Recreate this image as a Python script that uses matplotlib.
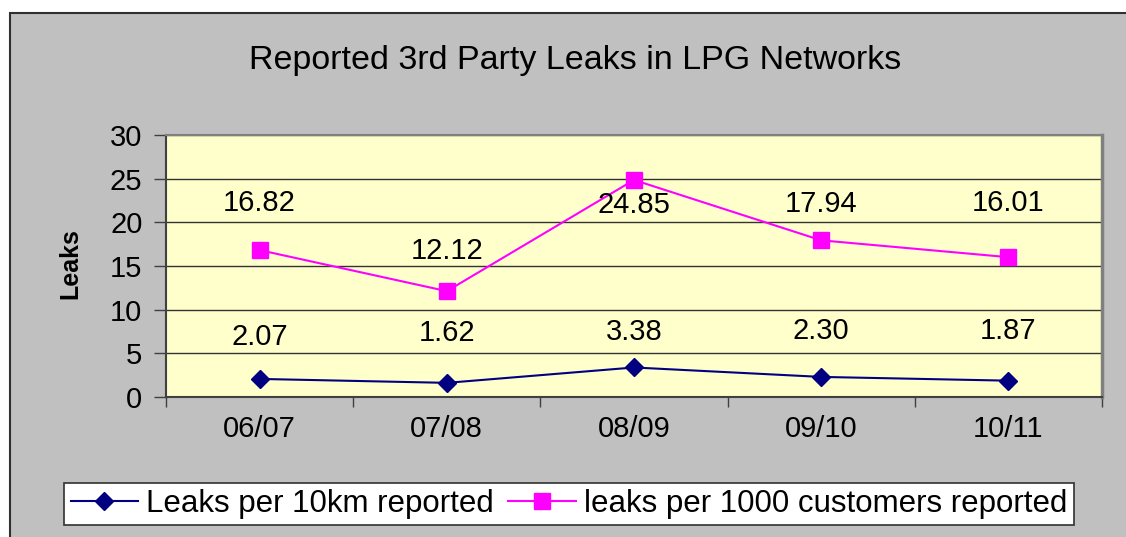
import matplotlib
matplotlib.use("Agg")
import matplotlib.pyplot as plt
from matplotlib.patches import Rectangle

plt.rcParams['font.family'] = ['Liberation Sans', 'DejaVu Sans']

title = "Reported 3rd Party Leaks in LPG Networks"
categories = ["06/07", "07/08", "08/09", "09/10", "10/11"]
leaks_per_10km = [2.07, 1.62, 3.38, 2.30, 1.87]
leaks_per_1000 = [16.82, 12.12, 24.85, 17.94, 16.01]
series_names = ["Leaks per 10km reported", "leaks per 1000 customers reported"]
y_label = "Leaks"
y_ticks = [0, 5, 10, 15, 20, 25, 30]

# label placement (data-y positions of the value labels)
label_y_10km = [6.9, 7.3, 7.4, 7.6, 7.6]
label_y_1000 = [22.2, 16.7, 22.0, 22.1, 22.2]

W, H = 1126, 537
fig = plt.figure(figsize=(W / 100, H / 100), dpi=100)
fig.patch.set_facecolor("white")

# grey chart area (border visible on left and top only)
bg = Rectangle((10 / W, -0.02), 1.0, 1 - 13 / H + 0.02, transform=fig.transFigure,
               facecolor="#C0C0C0", edgecolor="#303030", linewidth=1.5, zorder=-10)
fig.add_artist(bg)

ax = fig.add_axes([166 / W, (H - 397) / H, (1102 - 166) / W, (397 - 135) / H])
ax.set_zorder(1)
ax.set_facecolor("#FFFFCC")
x = list(range(len(categories)))

ax.plot(x, leaks_per_10km, color="#000080", marker="D", markersize=9, linewidth=1.5,
        label=series_names[0], zorder=3)
ax.plot(x, leaks_per_1000, color="#FF00FF", marker="s", markersize=11, linewidth=1.5,
        label=series_names[1], zorder=3)

for xi, v, ly in zip(x, leaks_per_10km, label_y_10km):
    ax.text(xi, ly, f"{v:.2f}", ha="center", va="center", fontsize=21, color="black")
for xi, v, ly in zip(x, leaks_per_1000, label_y_1000):
    ax.text(xi, ly, f"{v:.2f}", ha="center", va="center", fontsize=21, color="black")

ax.set_xlim(-0.5, len(categories) - 0.5)
ax.set_ylim(0, 30)
ax.set_yticks(y_ticks)
ax.set_yticklabels([str(t) for t in y_ticks], fontsize=21)
ax.yaxis.grid(True, color="#333333", linewidth=1.0)
ax.set_axisbelow(True)

ax.set_xticks(x)
ax.set_xticklabels(categories, fontsize=21)
ax.tick_params(axis="x", which="major", length=0, pad=13)
ax.set_xticks([i + 0.5 for i in range(-1, len(categories))], minor=True)
ax.tick_params(axis="x", which="minor", length=7, width=1, color="#404040")
ax.tick_params(axis="y", length=9, width=1, color="#404040", pad=8)

for s in ["left", "bottom"]:
    ax.spines[s].set_color("#404040")
    ax.spines[s].set_linewidth(1.5)
ax.spines["top"].set_color("#808080")
ax.spines["top"].set_linewidth(1.5)
ax.spines["right"].set_color("#808080")
ax.spines["right"].set_linewidth(2.5)

fig.text(70 / W, 1 - 264 / H, y_label, rotation=90, ha="center", va="center",
         fontsize=18, fontweight="bold")
fig.text(575 / W, 1 - 60 / H, title, ha="center", va="center", fontsize=24.5)

leg = fig.legend(loc="center", bbox_to_anchor=(569 / W, 1 - 504 / H), ncol=2,
                 fontsize=22.5, frameon=True, fancybox=False, edgecolor="#303030",
                 handlelength=2.16, handletextpad=0.26, columnspacing=0.46,
                 borderpad=0.2, borderaxespad=0, framealpha=1)
leg.get_frame().set_linewidth(1.2)
leg.get_frame().set_facecolor("white")
leg.set_zorder(5)

fig.savefig("out.png", dpi=100)
